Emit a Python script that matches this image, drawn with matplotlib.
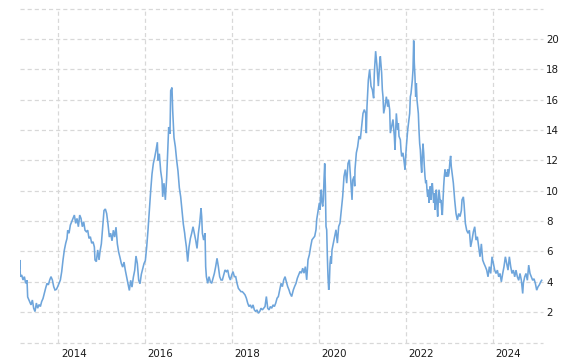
import matplotlib
matplotlib.use("Agg")
import matplotlib.pyplot as plt
import matplotlib.transforms as mtransforms
import numpy as np

# ---- data (fractional year, value) ----
t_a = [2013.108, 2013.115, 2013.127, 2013.157, 2013.188, 2013.219, 2013.249, 2013.280, 2013.295,
       2013.341, 2013.372, 2013.403, 2013.433, 2013.464, 2013.495, 2013.525, 2013.556, 2013.587,
       2013.617, 2013.648, 2013.679, 2013.710, 2013.740, 2013.771, 2013.802, 2013.832, 2013.863,
       2013.894, 2013.924, 2013.955, 2013.986, 2014.016, 2014.047, 2014.078, 2014.108, 2014.139,
       2014.170, 2014.200, 2014.216, 2014.246, 2014.277, 2014.308, 2014.338, 2014.369, 2014.400,
       2014.430, 2014.461, 2014.492, 2014.522, 2014.553, 2014.584, 2014.614, 2014.645, 2014.676,
       2014.706, 2014.737, 2014.768, 2014.798, 2014.829, 2014.844, 2014.875, 2014.906, 2014.937]
v_a = [4.9, 5.44, 4.34, 4.45, 4.12, 4.34, 3.9, 4.1, 3.0,
       2.7, 2.48, 2.8, 2.26, 2.04, 2.6, 2.26, 2.5, 2.37,
       2.7, 2.9, 3.25, 3.6, 3.9, 3.8, 4.12, 4.34, 4.12,
       3.68, 3.46, 3.5, 3.68, 3.9, 4.12, 4.67, 5.44, 6.1,
       6.54, 6.86, 7.4, 7.2, 7.74, 7.96, 8.18, 8.4, 7.85,
       8.18, 7.63, 8.4, 8.18, 7.63, 7.96, 7.4, 7.3, 7.4,
       6.86, 6.97, 6.54, 6.64, 6.3, 5.44, 5.33, 6.1, 5.44]

t_b = [2014.959, 2014.990, 2015.020, 2015.051, 2015.082, 2015.112, 2015.143, 2015.174, 2015.204,
       2015.235, 2015.266, 2015.296, 2015.327, 2015.358, 2015.388, 2015.419, 2015.450, 2015.480,
       2015.511, 2015.542, 2015.572, 2015.603, 2015.634, 2015.665, 2015.695, 2015.726, 2015.757,
       2015.787, 2015.818, 2015.849, 2015.879, 2015.910, 2015.941, 2015.971, 2016.002, 2016.033,
       2016.063, 2016.094, 2016.125, 2016.155, 2016.186, 2016.217, 2016.247, 2016.278, 2016.293,
       2016.324, 2016.355, 2016.385, 2016.401, 2016.431, 2016.462, 2016.493, 2016.523, 2016.539,
       2016.569, 2016.585, 2016.615, 2016.631, 2016.661, 2016.692, 2016.723, 2016.753, 2016.784,
       2016.815, 2016.846, 2016.876, 2016.907]
v_b = [6.0, 6.5, 7.6, 8.7, 8.8, 8.5, 7.8, 6.95, 7.2,
       6.7, 7.4, 6.95, 7.6, 6.5, 5.96, 5.6, 5.2, 4.97,
       5.3, 4.75, 4.3, 3.87, 3.43, 4.1, 3.65, 4.3, 4.75,
       5.7, 5.2, 4.1, 3.87, 4.5, 4.86, 5.2, 5.4, 6.3,
       7.4, 8.7, 10.0, 11.1, 11.8, 12.2, 12.66, 13.2, 12.0,
       12.44, 11.3, 10.7, 9.6, 10.5, 9.4, 10.9, 13.1, 14.2,
       13.75, 16.6, 16.8, 15.3, 13.5, 12.9, 12.0, 11.3, 10.2,
       9.6, 8.7, 7.8, 7.2]

t_c = [2016.915, 2016.946, 2016.976, 2017.007, 2017.038, 2017.068, 2017.099, 2017.130, 2017.160,
       2017.191, 2017.222, 2017.252, 2017.283, 2017.298, 2017.314, 2017.344, 2017.375, 2017.390,
       2017.406, 2017.436, 2017.467, 2017.498, 2017.528, 2017.559, 2017.590, 2017.620, 2017.651,
       2017.682, 2017.712, 2017.743, 2017.774, 2017.805, 2017.835, 2017.866, 2017.897, 2017.927,
       2017.958, 2017.989, 2018.019, 2018.050, 2018.081, 2018.111, 2018.142, 2018.173, 2018.203,
       2018.234, 2018.265, 2018.295, 2018.326, 2018.357, 2018.387, 2018.418, 2018.449, 2018.479,
       2018.510, 2018.541, 2018.571, 2018.602, 2018.633, 2018.663, 2018.694, 2018.725, 2018.755,
       2018.786, 2018.817, 2018.848, 2018.878, 2018.909, 2018.940, 2018.970, 2019.001, 2019.032,
       2019.062, 2019.093, 2019.124, 2019.154, 2019.185, 2019.216, 2019.246, 2019.277, 2019.308]
v_c = [6.97, 6.3, 5.33, 6.3, 6.86, 7.2, 7.63, 7.2, 6.75,
       6.2, 7.2, 7.85, 8.84, 8.3, 7.2, 6.75, 7.2, 5.0,
       4.34, 3.9, 4.34, 4.0, 3.9, 4.23, 4.56, 5.0, 5.55,
       5.0, 4.34, 4.12, 4.12, 4.45, 4.78, 4.67, 4.78, 4.34,
       4.12, 4.45, 4.67, 4.34, 4.34, 3.9, 3.57, 3.46, 3.35,
       3.35, 3.25, 3.14, 2.92, 2.59, 2.37, 2.48, 2.26, 2.48,
       2.15, 2.04, 2.15, 1.93, 2.04, 2.26, 2.15, 2.26, 2.37,
       3.03, 2.26, 2.15, 2.37, 2.26, 2.48, 2.37, 2.59, 2.92,
       3.03, 3.46, 3.9, 3.68, 4.12, 4.34, 4.0, 3.68, 3.46]

t_d = [2019.330, 2019.368, 2019.407, 2019.437, 2019.468, 2019.499, 2019.530, 2019.560, 2019.591,
       2019.622, 2019.652, 2019.683, 2019.714, 2019.744, 2019.775, 2019.806, 2019.836, 2019.867,
       2019.898, 2019.928, 2019.944, 2019.974, 2020.005, 2020.020, 2020.036, 2020.051, 2020.066,
       2020.082, 2020.097, 2020.112, 2020.128, 2020.143, 2020.158, 2020.174, 2020.189, 2020.204,
       2020.220, 2020.235, 2020.250, 2020.266, 2020.281, 2020.296, 2020.327, 2020.358, 2020.388,
       2020.419, 2020.450, 2020.480, 2020.511, 2020.542, 2020.572, 2020.603, 2020.634, 2020.664,
       2020.695, 2020.726, 2020.757, 2020.772, 2020.803, 2020.818]
v_d = [3.25, 3.03, 3.47, 3.7, 3.9, 4.24, 4.46, 4.68, 4.57,
       4.9, 4.57, 5.0, 4.13, 5.45, 5.78, 6.33, 6.77, 6.88,
       7.0, 7.43, 8.1, 8.64, 9.2, 8.75, 9.85, 10.07, 9.2,
       8.97, 9.4, 10.7, 11.8, 10.3, 7.65, 7.43, 5.67, 4.35,
       3.47, 3.9, 5.2, 5.67, 5.2, 6.1, 6.55, 7.0, 7.43,
       6.55, 7.65, 7.87, 8.75, 9.63, 10.95, 11.4, 10.5, 11.8,
       12.04, 10.7, 9.4, 10.7, 10.95, 10.3]

t_e = [2020.825, 2020.856, 2020.886, 2020.917, 2020.948, 2020.978, 2021.009, 2021.040, 2021.070,
       2021.086, 2021.101, 2021.132, 2021.162, 2021.193, 2021.224, 2021.254, 2021.270, 2021.300,
       2021.331, 2021.362, 2021.392, 2021.408, 2021.438, 2021.454, 2021.469, 2021.485, 2021.515,
       2021.546, 2021.577, 2021.592, 2021.623, 2021.638, 2021.669, 2021.699, 2021.730, 2021.745,
       2021.776, 2021.807, 2021.822, 2021.837, 2021.868, 2021.883, 2021.899, 2021.929, 2021.960,
       2021.975, 2021.991, 2022.006, 2022.037, 2022.067, 2022.083, 2022.098, 2022.113, 2022.144,
       2022.159, 2022.175, 2022.190, 2022.205, 2022.221, 2022.236, 2022.251, 2022.267, 2022.282,
       2022.297, 2022.313, 2022.328, 2022.343, 2022.359, 2022.374, 2022.389, 2022.405, 2022.420,
       2022.435, 2022.451, 2022.466, 2022.481, 2022.497, 2022.512, 2022.527, 2022.543, 2022.558,
       2022.573, 2022.589, 2022.604, 2022.619, 2022.635, 2022.650, 2022.665, 2022.681, 2022.696,
       2022.712, 2022.727, 2022.742, 2022.758, 2022.773, 2022.788, 2022.804, 2022.819, 2022.834,
       2022.850, 2022.865, 2022.880, 2022.896, 2022.911, 2022.926, 2022.942, 2022.957, 2022.972,
       2022.988, 2023.011]
v_e = [11.4, 12.5, 12.9, 13.6, 13.4, 14.25, 15.1, 15.35, 15.1,
       13.8, 15.56, 17.3, 18.0, 16.9, 16.66, 16.1, 17.76, 19.2,
       18.2, 16.9, 18.4, 18.86, 17.76, 16.66, 16.2, 15.1, 15.56,
       16.2, 15.56, 16.0, 15.34, 13.8, 14.24, 14.7, 13.6, 12.7,
       15.1, 14.0, 14.46, 13.6, 13.36, 12.7, 12.26, 12.5, 11.8,
       11.4, 12.26, 12.9, 14.0, 14.7, 15.1, 16.2, 16.4, 17.3,
       17.97, 19.9, 18.4, 17.5, 16.2, 17.1, 16.0, 15.56, 15.1,
       14.0, 13.1, 12.7, 11.8, 11.2, 12.26, 13.1, 12.5, 11.6,
       10.95, 10.5, 10.7, 10.07, 9.6, 10.07, 9.2, 9.6, 10.3,
       9.4, 10.3, 10.5, 9.85, 9.2, 9.85, 8.75, 9.6, 10.07,
       8.97, 8.3, 9.4, 10.07, 9.6, 9.2, 9.4, 8.75, 8.4,
       9.4, 10.3, 10.95, 11.4, 10.95, 11.2, 10.95, 11.4, 10.95,
       11.2, 12.0]

t_f = [2023.025, 2023.040, 2023.088, 2023.118, 2023.149, 2023.180, 2023.210, 2023.241, 2023.272,
       2023.287, 2023.318, 2023.333, 2023.348, 2023.364, 2023.394, 2023.425, 2023.456, 2023.486,
       2023.517, 2023.548, 2023.579, 2023.609, 2023.640, 2023.671, 2023.701, 2023.732, 2023.763,
       2023.793, 2023.824, 2023.855, 2023.885, 2023.916, 2023.947, 2023.977, 2024.008, 2024.039,
       2024.069, 2024.100, 2024.131, 2024.161, 2024.192, 2024.223, 2024.253, 2024.284, 2024.315,
       2024.345, 2024.376, 2024.407, 2024.437, 2024.468, 2024.499, 2024.529, 2024.560, 2024.591,
       2024.621, 2024.652, 2024.683, 2024.698, 2024.729, 2024.759, 2024.790, 2024.821, 2024.851,
       2024.882, 2024.913, 2024.943, 2024.974, 2025.005, 2025.035, 2025.066, 2025.097, 2025.120]
v_f = [12.3, 11.6, 10.5, 9.4, 8.5, 8.07, 8.5, 8.3, 8.7,
       9.4, 9.6, 9.16, 8.5, 7.85, 7.4, 7.2, 7.4, 6.3,
       6.75, 7.3, 7.63, 6.75, 6.97, 6.3, 5.65, 6.5, 5.43,
       5.2, 5.0, 4.77, 4.33, 5.0, 4.55, 5.65, 5.2, 4.77,
       4.55, 4.77, 4.33, 4.55, 4.0, 4.55, 5.0, 5.65, 5.2,
       4.77, 5.65, 5.0, 4.55, 4.77, 4.33, 4.77, 4.33, 4.1,
       4.55, 4.1, 3.23, 3.9, 4.33, 4.55, 4.1, 5.1, 4.55,
       4.33, 4.1, 4.2, 3.9, 3.45, 3.67, 3.8, 4.0, 4.1]

year_ticks = [2014, 2016, 2018, 2020, 2022, 2024]
y_ticks = [0, 2, 4, 6, 8, 10, 12, 14, 16, 18, 20, 22]
y_labels = ["", "2", "4", "6", "8", "10", "12", "14", "16", "18", "20", ""]

t = np.concatenate([t_a, t_b, t_c, t_d, t_e, t_f])
v = np.concatenate([v_a, v_b, v_c, v_d, v_e, v_f])

W, H = 581, 364
fig = plt.figure(figsize=(W / 100, H / 100), dpi=100)
ax = fig.add_axes([19.5 / W, (H - 342.5) / H, (543 - 19.5) / W, (342.5 - 8.7) / H])

ax.plot(t, v, color="#6ea5db", lw=1.15, solid_joinstyle="miter", zorder=3)

ax.set_xlim(2013.107, 2025.15)
ax.set_ylim(0, 22)

for s in ax.spines.values():
    s.set_visible(False)

grid_kw = dict(color="#d8d8d8", lw=0.9, linestyle=(0, (3.3, 2.4)), zorder=1, clip_on=False)
for y in y_ticks:
    ax.axhline(y, **grid_kw)
for x in year_ticks:
    ax.axvline(x, **grid_kw)

ax.set_xticks(year_ticks)
ax.set_xticklabels([str(y) for y in year_ticks])
ax.tick_params(axis="x", length=0, pad=5, labelsize=7.4, labelcolor="#1a1a1a")
offset = mtransforms.ScaledTranslation(2.5 / 100, 0, fig.dpi_scale_trans)
for lab in ax.get_xticklabels():
    lab.set_horizontalalignment("left")
    lab.set_transform(lab.get_transform() + offset)

ax.yaxis.tick_right()
ax.set_yticks(y_ticks)
ax.set_yticklabels(y_labels)
ax.tick_params(axis="y", length=0, pad=2.2, labelsize=7.4, labelcolor="#1a1a1a")

fig.savefig("out.png", dpi=100)
